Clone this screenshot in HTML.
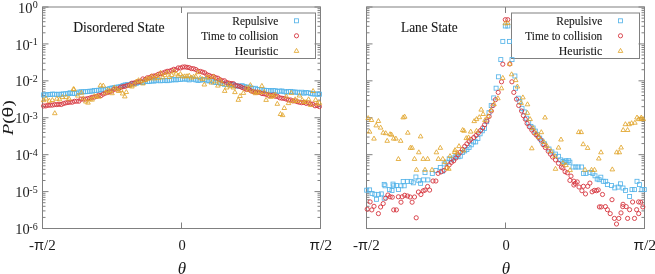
<!DOCTYPE html><html><head><meta charset="utf-8"><style>html,body{margin:0;padding:0;background:#fff;width:655px;height:274px;overflow:hidden}svg{display:block;will-change:transform}text{font-family:"Liberation Serif",serif;fill:#1a1a1a}.b{stroke:#1a1a1a;stroke-width:0.12px}</style></head><body>
<svg width="655" height="274" viewBox="0 0 655 274">
<defs><rect id="s" x="-2" y="-2" width="4" height="4" fill="none" stroke="#56b4e9" stroke-width="0.85"/><circle id="c" r="2.1" fill="none" stroke="#d6363e" stroke-width="0.9"/><path id="t" d="M0,-2.4L2.3,1.6L-2.3,1.6Z" fill="none" stroke="#e2a52c" stroke-width="0.85"/></defs>
<rect x="42.5" y="7.0" width="278.0" height="221.5" fill="none" stroke="#808080" stroke-width="1"/>
<path d="M42.5,7.00h6M320.5,7.00h-6M42.5,32.81h3M320.5,32.81h-3M42.5,26.30h3M320.5,26.30h-3M42.5,21.69h3M320.5,21.69h-3M42.5,18.11h3M320.5,18.11h-3M42.5,15.19h3M320.5,15.19h-3M42.5,12.72h3M320.5,12.72h-3M42.5,10.58h3M320.5,10.58h-3M42.5,8.69h3M320.5,8.69h-3M42.5,43.92h6M320.5,43.92h-6M42.5,69.73h3M320.5,69.73h-3M42.5,63.22h3M320.5,63.22h-3M42.5,58.61h3M320.5,58.61h-3M42.5,55.03h3M320.5,55.03h-3M42.5,52.11h3M320.5,52.11h-3M42.5,49.64h3M320.5,49.64h-3M42.5,47.50h3M320.5,47.50h-3M42.5,45.61h3M320.5,45.61h-3M42.5,80.84h6M320.5,80.84h-6M42.5,106.65h3M320.5,106.65h-3M42.5,100.14h3M320.5,100.14h-3M42.5,95.53h3M320.5,95.53h-3M42.5,91.95h3M320.5,91.95h-3M42.5,89.03h3M320.5,89.03h-3M42.5,86.56h3M320.5,86.56h-3M42.5,84.42h3M320.5,84.42h-3M42.5,82.53h3M320.5,82.53h-3M42.5,117.76h6M320.5,117.76h-6M42.5,143.57h3M320.5,143.57h-3M42.5,137.06h3M320.5,137.06h-3M42.5,132.45h3M320.5,132.45h-3M42.5,128.87h3M320.5,128.87h-3M42.5,125.95h3M320.5,125.95h-3M42.5,123.48h3M320.5,123.48h-3M42.5,121.34h3M320.5,121.34h-3M42.5,119.45h3M320.5,119.45h-3M42.5,154.68h6M320.5,154.68h-6M42.5,180.49h3M320.5,180.49h-3M42.5,173.98h3M320.5,173.98h-3M42.5,169.37h3M320.5,169.37h-3M42.5,165.79h3M320.5,165.79h-3M42.5,162.87h3M320.5,162.87h-3M42.5,160.40h3M320.5,160.40h-3M42.5,158.26h3M320.5,158.26h-3M42.5,156.37h3M320.5,156.37h-3M42.5,191.60h6M320.5,191.60h-6M42.5,217.41h3M320.5,217.41h-3M42.5,210.90h3M320.5,210.90h-3M42.5,206.29h3M320.5,206.29h-3M42.5,202.71h3M320.5,202.71h-3M42.5,199.79h3M320.5,199.79h-3M42.5,197.32h3M320.5,197.32h-3M42.5,195.18h3M320.5,195.18h-3M42.5,193.29h3M320.5,193.29h-3M42.5,228.52h6M320.5,228.52h-6M181.5,7.0v6M181.5,228.5v-6" stroke="#808080" stroke-width="1" fill="none"/>
<rect x="366.5" y="7.0" width="278.0" height="221.5" fill="none" stroke="#808080" stroke-width="1"/>
<path d="M366.5,7.00h6M644.5,7.00h-6M366.5,32.81h3M644.5,32.81h-3M366.5,26.30h3M644.5,26.30h-3M366.5,21.69h3M644.5,21.69h-3M366.5,18.11h3M644.5,18.11h-3M366.5,15.19h3M644.5,15.19h-3M366.5,12.72h3M644.5,12.72h-3M366.5,10.58h3M644.5,10.58h-3M366.5,8.69h3M644.5,8.69h-3M366.5,43.92h6M644.5,43.92h-6M366.5,69.73h3M644.5,69.73h-3M366.5,63.22h3M644.5,63.22h-3M366.5,58.61h3M644.5,58.61h-3M366.5,55.03h3M644.5,55.03h-3M366.5,52.11h3M644.5,52.11h-3M366.5,49.64h3M644.5,49.64h-3M366.5,47.50h3M644.5,47.50h-3M366.5,45.61h3M644.5,45.61h-3M366.5,80.84h6M644.5,80.84h-6M366.5,106.65h3M644.5,106.65h-3M366.5,100.14h3M644.5,100.14h-3M366.5,95.53h3M644.5,95.53h-3M366.5,91.95h3M644.5,91.95h-3M366.5,89.03h3M644.5,89.03h-3M366.5,86.56h3M644.5,86.56h-3M366.5,84.42h3M644.5,84.42h-3M366.5,82.53h3M644.5,82.53h-3M366.5,117.76h6M644.5,117.76h-6M366.5,143.57h3M644.5,143.57h-3M366.5,137.06h3M644.5,137.06h-3M366.5,132.45h3M644.5,132.45h-3M366.5,128.87h3M644.5,128.87h-3M366.5,125.95h3M644.5,125.95h-3M366.5,123.48h3M644.5,123.48h-3M366.5,121.34h3M644.5,121.34h-3M366.5,119.45h3M644.5,119.45h-3M366.5,154.68h6M644.5,154.68h-6M366.5,180.49h3M644.5,180.49h-3M366.5,173.98h3M644.5,173.98h-3M366.5,169.37h3M644.5,169.37h-3M366.5,165.79h3M644.5,165.79h-3M366.5,162.87h3M644.5,162.87h-3M366.5,160.40h3M644.5,160.40h-3M366.5,158.26h3M644.5,158.26h-3M366.5,156.37h3M644.5,156.37h-3M366.5,191.60h6M644.5,191.60h-6M366.5,217.41h3M644.5,217.41h-3M366.5,210.90h3M644.5,210.90h-3M366.5,206.29h3M644.5,206.29h-3M366.5,202.71h3M644.5,202.71h-3M366.5,199.79h3M644.5,199.79h-3M366.5,197.32h3M644.5,197.32h-3M366.5,195.18h3M644.5,195.18h-3M366.5,193.29h3M644.5,193.29h-3M366.5,228.52h6M644.5,228.52h-6M505.5,7.0v6M505.5,228.5v-6" stroke="#808080" stroke-width="1" fill="none"/>
<text x="32.50" y="12.6" font-size="14.4" text-anchor="end">10</text>
<text x="37.7" y="8.0" font-size="10" text-anchor="end">0</text>
<text x="29.67" y="49.5" font-size="14.4" text-anchor="end">10</text>
<text x="37.7" y="44.9" font-size="10" text-anchor="end">-1</text>
<text x="29.67" y="86.4" font-size="14.4" text-anchor="end">10</text>
<text x="37.7" y="81.8" font-size="10" text-anchor="end">-2</text>
<text x="29.67" y="123.4" font-size="14.4" text-anchor="end">10</text>
<text x="37.7" y="118.8" font-size="10" text-anchor="end">-3</text>
<text x="29.67" y="160.3" font-size="14.4" text-anchor="end">10</text>
<text x="37.7" y="155.7" font-size="10" text-anchor="end">-4</text>
<text x="29.67" y="197.2" font-size="14.4" text-anchor="end">10</text>
<text x="37.7" y="192.6" font-size="10" text-anchor="end">-5</text>
<text x="29.67" y="234.1" font-size="14.4" text-anchor="end">10</text>
<text x="37.7" y="229.5" font-size="10" text-anchor="end">-6</text>
<text x="42.3" y="250.1" font-size="14.5" text-anchor="middle" textLength="26.8" lengthAdjust="spacingAndGlyphs">-<tspan font-family="Liberation Sans" font-size="14">π</tspan>/2</text>
<text x="182.0" y="250.1" font-size="14.5" text-anchor="middle">0</text>
<text x="320.8" y="250.1" font-size="14.5" text-anchor="middle" textLength="22.8" lengthAdjust="spacingAndGlyphs"><tspan font-family="Liberation Sans" font-size="14">π</tspan>/2</text>
<text x="182.0" y="273.6" font-size="17" font-style="italic" text-anchor="middle">θ</text>
<text x="366.3" y="250.1" font-size="14.5" text-anchor="middle" textLength="26.8" lengthAdjust="spacingAndGlyphs">-<tspan font-family="Liberation Sans" font-size="14">π</tspan>/2</text>
<text x="506.0" y="250.1" font-size="14.5" text-anchor="middle">0</text>
<text x="644.8" y="250.1" font-size="14.5" text-anchor="middle" textLength="22.8" lengthAdjust="spacingAndGlyphs"><tspan font-family="Liberation Sans" font-size="14">π</tspan>/2</text>
<text x="506.0" y="273.6" font-size="17" font-style="italic" text-anchor="middle">θ</text>
<text transform="translate(13.4,117.8) rotate(-90)" font-size="15" text-anchor="middle" textLength="35" lengthAdjust="spacingAndGlyphs"><tspan font-style="italic">P</tspan>(<tspan font-family="Liberation Sans" font-size="15.5">θ</tspan>)</text>
<text class="b" x="73.2" y="31.8" font-size="14" textLength="91.5" lengthAdjust="spacingAndGlyphs">Disordered State</text>
<text class="b" x="401.1" y="31.9" font-size="14" textLength="56.5" lengthAdjust="spacingAndGlyphs">Lane State</text>
<rect x="187.5" y="13" width="128" height="45.5" fill="none" stroke="#808080" stroke-width="1"/>
<text class="b" x="278.3" y="24.8" font-size="12" text-anchor="end" textLength="46" lengthAdjust="spacingAndGlyphs">Repulsive</text>
<use href="#s" x="296.5" y="20.8"/>
<text class="b" x="278.3" y="39.8" font-size="12" text-anchor="end" textLength="77" lengthAdjust="spacingAndGlyphs">Time to collision</text>
<use href="#c" x="296.5" y="35.8"/>
<text class="b" x="278.3" y="54.8" font-size="12" text-anchor="end" textLength="43.5" lengthAdjust="spacingAndGlyphs">Heuristic</text>
<use href="#t" x="296.5" y="50.8"/>
<rect x="511.5" y="13" width="128" height="45.5" fill="none" stroke="#808080" stroke-width="1"/>
<text class="b" x="602.3" y="24.8" font-size="12" text-anchor="end" textLength="46" lengthAdjust="spacingAndGlyphs">Repulsive</text>
<use href="#s" x="620.5" y="20.8"/>
<text class="b" x="602.3" y="39.8" font-size="12" text-anchor="end" textLength="77" lengthAdjust="spacingAndGlyphs">Time to collision</text>
<use href="#c" x="620.5" y="35.8"/>
<text class="b" x="602.3" y="54.8" font-size="12" text-anchor="end" textLength="43.5" lengthAdjust="spacingAndGlyphs">Heuristic</text>
<use href="#t" x="620.5" y="50.8"/>
<use href="#s" x="43.6" y="94.9"/>
<use href="#s" x="45.8" y="95.0"/>
<use href="#s" x="48.0" y="94.6"/>
<use href="#s" x="50.2" y="94.5"/>
<use href="#s" x="52.4" y="94.1"/>
<use href="#s" x="54.6" y="94.2"/>
<use href="#s" x="56.8" y="94.6"/>
<use href="#s" x="59.0" y="94.2"/>
<use href="#s" x="61.3" y="94.3"/>
<use href="#s" x="63.5" y="93.9"/>
<use href="#s" x="65.7" y="93.8"/>
<use href="#s" x="67.9" y="93.6"/>
<use href="#s" x="70.1" y="92.8"/>
<use href="#s" x="72.3" y="93.6"/>
<use href="#s" x="74.5" y="93.3"/>
<use href="#s" x="76.7" y="93.2"/>
<use href="#s" x="78.9" y="92.1"/>
<use href="#s" x="81.1" y="91.8"/>
<use href="#s" x="83.3" y="91.8"/>
<use href="#s" x="85.5" y="91.7"/>
<use href="#s" x="87.7" y="91.6"/>
<use href="#s" x="89.9" y="91.2"/>
<use href="#s" x="92.1" y="91.1"/>
<use href="#s" x="94.3" y="90.4"/>
<use href="#s" x="96.6" y="90.4"/>
<use href="#s" x="98.8" y="90.2"/>
<use href="#s" x="101.0" y="89.5"/>
<use href="#s" x="103.2" y="90.0"/>
<use href="#s" x="105.4" y="89.4"/>
<use href="#s" x="107.6" y="89.3"/>
<use href="#s" x="109.8" y="88.4"/>
<use href="#s" x="112.0" y="88.0"/>
<use href="#s" x="114.2" y="87.7"/>
<use href="#s" x="116.4" y="87.2"/>
<use href="#s" x="118.6" y="87.0"/>
<use href="#s" x="120.8" y="86.4"/>
<use href="#s" x="123.0" y="85.6"/>
<use href="#s" x="125.2" y="84.9"/>
<use href="#s" x="127.4" y="84.7"/>
<use href="#s" x="129.7" y="84.9"/>
<use href="#s" x="131.9" y="83.7"/>
<use href="#s" x="134.1" y="83.7"/>
<use href="#s" x="136.3" y="83.3"/>
<use href="#s" x="138.5" y="82.3"/>
<use href="#s" x="140.7" y="82.4"/>
<use href="#s" x="142.9" y="82.6"/>
<use href="#s" x="145.1" y="81.2"/>
<use href="#s" x="147.3" y="81.6"/>
<use href="#s" x="149.5" y="81.4"/>
<use href="#s" x="151.7" y="80.9"/>
<use href="#s" x="153.9" y="81.1"/>
<use href="#s" x="156.1" y="80.7"/>
<use href="#s" x="158.3" y="80.1"/>
<use href="#s" x="160.5" y="80.8"/>
<use href="#s" x="162.7" y="80.6"/>
<use href="#s" x="165.0" y="80.6"/>
<use href="#s" x="167.2" y="80.7"/>
<use href="#s" x="169.4" y="80.2"/>
<use href="#s" x="171.6" y="80.0"/>
<use href="#s" x="173.8" y="79.4"/>
<use href="#s" x="176.0" y="79.9"/>
<use href="#s" x="178.2" y="79.4"/>
<use href="#s" x="180.4" y="79.4"/>
<use href="#s" x="182.6" y="79.0"/>
<use href="#s" x="184.8" y="79.0"/>
<use href="#s" x="187.0" y="79.2"/>
<use href="#s" x="189.2" y="79.9"/>
<use href="#s" x="191.4" y="78.9"/>
<use href="#s" x="193.6" y="79.2"/>
<use href="#s" x="195.8" y="79.9"/>
<use href="#s" x="198.0" y="80.4"/>
<use href="#s" x="200.3" y="80.2"/>
<use href="#s" x="202.5" y="79.6"/>
<use href="#s" x="204.7" y="79.6"/>
<use href="#s" x="206.9" y="80.8"/>
<use href="#s" x="209.1" y="80.7"/>
<use href="#s" x="211.3" y="80.8"/>
<use href="#s" x="213.5" y="82.0"/>
<use href="#s" x="215.7" y="82.4"/>
<use href="#s" x="217.9" y="82.5"/>
<use href="#s" x="220.1" y="83.0"/>
<use href="#s" x="222.3" y="83.5"/>
<use href="#s" x="224.5" y="84.3"/>
<use href="#s" x="226.7" y="84.3"/>
<use href="#s" x="228.9" y="84.6"/>
<use href="#s" x="231.1" y="84.9"/>
<use href="#s" x="233.3" y="84.5"/>
<use href="#s" x="235.6" y="85.8"/>
<use href="#s" x="237.8" y="86.0"/>
<use href="#s" x="240.0" y="86.2"/>
<use href="#s" x="242.2" y="85.7"/>
<use href="#s" x="244.4" y="86.6"/>
<use href="#s" x="246.6" y="87.5"/>
<use href="#s" x="248.8" y="87.0"/>
<use href="#s" x="251.0" y="88.0"/>
<use href="#s" x="253.2" y="88.7"/>
<use href="#s" x="255.4" y="88.3"/>
<use href="#s" x="257.6" y="89.6"/>
<use href="#s" x="259.8" y="89.6"/>
<use href="#s" x="262.0" y="89.7"/>
<use href="#s" x="264.2" y="90.2"/>
<use href="#s" x="266.4" y="90.5"/>
<use href="#s" x="268.7" y="90.5"/>
<use href="#s" x="270.9" y="91.0"/>
<use href="#s" x="273.1" y="90.5"/>
<use href="#s" x="275.3" y="90.7"/>
<use href="#s" x="277.5" y="91.4"/>
<use href="#s" x="279.7" y="91.1"/>
<use href="#s" x="281.9" y="91.0"/>
<use href="#s" x="284.1" y="91.7"/>
<use href="#s" x="286.3" y="92.1"/>
<use href="#s" x="288.5" y="91.5"/>
<use href="#s" x="290.7" y="91.4"/>
<use href="#s" x="292.9" y="91.9"/>
<use href="#s" x="295.1" y="92.1"/>
<use href="#s" x="297.3" y="92.2"/>
<use href="#s" x="299.5" y="92.9"/>
<use href="#s" x="301.7" y="92.2"/>
<use href="#s" x="304.0" y="93.2"/>
<use href="#s" x="306.2" y="92.5"/>
<use href="#s" x="308.4" y="92.8"/>
<use href="#s" x="310.6" y="93.5"/>
<use href="#s" x="312.8" y="93.9"/>
<use href="#s" x="315.0" y="94.0"/>
<use href="#s" x="317.2" y="94.1"/>
<use href="#s" x="319.4" y="94.2"/>
<use href="#s" x="366.7" y="190.2"/>
<use href="#s" x="369.6" y="189.9"/>
<use href="#s" x="372.1" y="193.4"/>
<use href="#s" x="374.8" y="194.3"/>
<use href="#s" x="376.5" y="199.3"/>
<use href="#s" x="378.4" y="194.6"/>
<use href="#s" x="381.3" y="193.9"/>
<use href="#s" x="384.2" y="198.2"/>
<use href="#s" x="385.0" y="185.8"/>
<use href="#s" x="389.4" y="189.5"/>
<use href="#s" x="392.0" y="190.5"/>
<use href="#s" x="393.7" y="185.8"/>
<use href="#s" x="396.4" y="185.5"/>
<use href="#s" x="398.4" y="189.5"/>
<use href="#s" x="401.0" y="185.8"/>
<use href="#s" x="404.2" y="185.8"/>
<use href="#s" x="403.2" y="181.5"/>
<use href="#s" x="384.2" y="184.4"/>
<use href="#s" x="393.0" y="184.1"/>
<use href="#s" x="407.5" y="181.4"/>
<use href="#s" x="411.1" y="181.4"/>
<use href="#s" x="413.3" y="182.8"/>
<use href="#s" x="415.9" y="177.0"/>
<use href="#s" x="418.8" y="180.7"/>
<use href="#s" x="420.6" y="183.3"/>
<use href="#s" x="423.5" y="179.9"/>
<use href="#s" x="425.0" y="172.6"/>
<use href="#s" x="427.9" y="179.9"/>
<use href="#s" x="432.3" y="173.4"/>
<use href="#s" x="435.9" y="170.4"/>
<use href="#s" x="440.3" y="167.5"/>
<use href="#s" x="444.2" y="163.9"/>
<use href="#s" x="442.5" y="171.2"/>
<use href="#s" x="505.3" y="26.0"/>
<use href="#s" x="507.8" y="26.0"/>
<use href="#s" x="502.8" y="41.4"/>
<use href="#s" x="509.4" y="41.4"/>
<use href="#s" x="500.8" y="59.6"/>
<use href="#s" x="512.0" y="59.6"/>
<use href="#s" x="498.4" y="76.8"/>
<use href="#s" x="514.9" y="76.0"/>
<use href="#s" x="496.1" y="88.2"/>
<use href="#s" x="493.7" y="97.9"/>
<use href="#s" x="515.6" y="88.2"/>
<use href="#s" x="518.3" y="98.2"/>
<use href="#s" x="541.7" y="140.9"/>
<use href="#s" x="544.6" y="143.9"/>
<use href="#s" x="549.0" y="149.0"/>
<use href="#s" x="551.9" y="151.9"/>
<use href="#s" x="555.5" y="154.1"/>
<use href="#s" x="558.5" y="156.3"/>
<use href="#s" x="560.7" y="159.9"/>
<use href="#s" x="562.8" y="161.4"/>
<use href="#s" x="565.8" y="160.7"/>
<use href="#s" x="568.7" y="160.7"/>
<use href="#s" x="564.1" y="162.2"/>
<use href="#s" x="567.0" y="162.2"/>
<use href="#s" x="569.9" y="162.2"/>
<use href="#s" x="573.1" y="167.0"/>
<use href="#s" x="575.8" y="167.0"/>
<use href="#s" x="578.2" y="167.0"/>
<use href="#s" x="581.6" y="167.0"/>
<use href="#s" x="583.4" y="173.4"/>
<use href="#s" x="586.0" y="173.4"/>
<use href="#s" x="589.9" y="172.4"/>
<use href="#s" x="592.8" y="173.4"/>
<use href="#s" x="595.0" y="175.8"/>
<use href="#s" x="597.2" y="179.0"/>
<use href="#s" x="599.1" y="179.7"/>
<use href="#s" x="600.8" y="177.2"/>
<use href="#s" x="603.3" y="181.3"/>
<use href="#s" x="605.7" y="181.3"/>
<use href="#s" x="607.4" y="184.6"/>
<use href="#s" x="611.5" y="185.5"/>
<use href="#s" x="614.8" y="187.9"/>
<use href="#s" x="618.1" y="187.1"/>
<use href="#s" x="620.5" y="183.8"/>
<use href="#s" x="623.0" y="188.0"/>
<use href="#s" x="625.5" y="190.4"/>
<use href="#s" x="629.6" y="196.5"/>
<use href="#s" x="632.0" y="189.6"/>
<use href="#s" x="634.5" y="189.6"/>
<use href="#s" x="637.0" y="181.3"/>
<use href="#s" x="639.4" y="184.6"/>
<use href="#s" x="641.9" y="189.6"/>
<use href="#s" x="644.3" y="189.6"/>
<use href="#s" x="447.0" y="162.2"/>
<use href="#s" x="449.2" y="158.8"/>
<use href="#s" x="451.4" y="159.7"/>
<use href="#s" x="453.7" y="158.0"/>
<use href="#s" x="455.9" y="156.2"/>
<use href="#s" x="458.1" y="156.8"/>
<use href="#s" x="460.3" y="156.2"/>
<use href="#s" x="462.5" y="152.4"/>
<use href="#s" x="464.7" y="150.9"/>
<use href="#s" x="466.9" y="149.6"/>
<use href="#s" x="469.1" y="147.4"/>
<use href="#s" x="471.3" y="144.8"/>
<use href="#s" x="473.5" y="141.9"/>
<use href="#s" x="475.7" y="141.9"/>
<use href="#s" x="477.9" y="138.5"/>
<use href="#s" x="480.1" y="133.8"/>
<use href="#s" x="482.3" y="130.8"/>
<use href="#s" x="484.5" y="128.4"/>
<use href="#s" x="486.7" y="121.7"/>
<use href="#s" x="489.0" y="112.7"/>
<use href="#s" x="491.2" y="105.6"/>
<use href="#s" x="519.8" y="101.6"/>
<use href="#s" x="522.0" y="108.3"/>
<use href="#s" x="524.3" y="111.9"/>
<use href="#s" x="526.5" y="118.2"/>
<use href="#s" x="528.7" y="122.6"/>
<use href="#s" x="530.9" y="126.4"/>
<use href="#s" x="533.1" y="128.0"/>
<use href="#s" x="535.3" y="131.1"/>
<use href="#s" x="537.5" y="134.7"/>
<use href="#s" x="539.7" y="138.1"/>
<use href="#c" x="43.6" y="106.0"/>
<use href="#c" x="45.8" y="105.9"/>
<use href="#c" x="48.0" y="105.3"/>
<use href="#c" x="50.2" y="105.2"/>
<use href="#c" x="52.4" y="105.1"/>
<use href="#c" x="54.6" y="104.6"/>
<use href="#c" x="56.8" y="104.6"/>
<use href="#c" x="59.0" y="104.3"/>
<use href="#c" x="61.3" y="104.5"/>
<use href="#c" x="63.5" y="103.5"/>
<use href="#c" x="65.7" y="102.9"/>
<use href="#c" x="67.9" y="102.5"/>
<use href="#c" x="70.1" y="102.2"/>
<use href="#c" x="72.3" y="102.2"/>
<use href="#c" x="74.5" y="101.3"/>
<use href="#c" x="76.7" y="101.2"/>
<use href="#c" x="78.9" y="101.2"/>
<use href="#c" x="81.1" y="99.1"/>
<use href="#c" x="83.3" y="99.1"/>
<use href="#c" x="85.5" y="99.1"/>
<use href="#c" x="87.7" y="98.6"/>
<use href="#c" x="89.9" y="98.1"/>
<use href="#c" x="92.1" y="97.3"/>
<use href="#c" x="94.3" y="97.2"/>
<use href="#c" x="96.6" y="96.4"/>
<use href="#c" x="98.8" y="95.3"/>
<use href="#c" x="101.0" y="95.6"/>
<use href="#c" x="103.2" y="94.1"/>
<use href="#c" x="105.4" y="93.1"/>
<use href="#c" x="107.6" y="92.5"/>
<use href="#c" x="109.8" y="91.7"/>
<use href="#c" x="112.0" y="91.0"/>
<use href="#c" x="114.2" y="89.2"/>
<use href="#c" x="116.4" y="89.1"/>
<use href="#c" x="118.6" y="88.8"/>
<use href="#c" x="120.8" y="87.2"/>
<use href="#c" x="123.0" y="86.7"/>
<use href="#c" x="125.2" y="86.3"/>
<use href="#c" x="127.4" y="85.5"/>
<use href="#c" x="129.7" y="85.0"/>
<use href="#c" x="131.9" y="83.2"/>
<use href="#c" x="134.1" y="83.0"/>
<use href="#c" x="136.3" y="82.2"/>
<use href="#c" x="138.5" y="81.7"/>
<use href="#c" x="140.7" y="81.1"/>
<use href="#c" x="142.9" y="78.9"/>
<use href="#c" x="145.1" y="79.5"/>
<use href="#c" x="147.3" y="77.8"/>
<use href="#c" x="149.5" y="77.7"/>
<use href="#c" x="151.7" y="76.2"/>
<use href="#c" x="153.9" y="76.0"/>
<use href="#c" x="156.1" y="75.6"/>
<use href="#c" x="158.3" y="74.3"/>
<use href="#c" x="160.5" y="73.7"/>
<use href="#c" x="162.7" y="73.1"/>
<use href="#c" x="165.0" y="72.1"/>
<use href="#c" x="167.2" y="71.3"/>
<use href="#c" x="169.4" y="71.2"/>
<use href="#c" x="171.6" y="70.4"/>
<use href="#c" x="173.8" y="69.3"/>
<use href="#c" x="176.0" y="69.8"/>
<use href="#c" x="178.2" y="67.9"/>
<use href="#c" x="180.4" y="68.0"/>
<use href="#c" x="182.6" y="67.1"/>
<use href="#c" x="184.8" y="66.9"/>
<use href="#c" x="187.0" y="67.3"/>
<use href="#c" x="189.2" y="67.6"/>
<use href="#c" x="191.4" y="68.6"/>
<use href="#c" x="193.6" y="68.7"/>
<use href="#c" x="195.8" y="69.5"/>
<use href="#c" x="198.0" y="71.1"/>
<use href="#c" x="200.3" y="71.4"/>
<use href="#c" x="202.5" y="72.1"/>
<use href="#c" x="204.7" y="72.8"/>
<use href="#c" x="206.9" y="74.7"/>
<use href="#c" x="209.1" y="75.4"/>
<use href="#c" x="211.3" y="76.5"/>
<use href="#c" x="213.5" y="76.5"/>
<use href="#c" x="215.7" y="77.7"/>
<use href="#c" x="217.9" y="78.2"/>
<use href="#c" x="220.1" y="79.7"/>
<use href="#c" x="222.3" y="80.8"/>
<use href="#c" x="224.5" y="80.8"/>
<use href="#c" x="226.7" y="82.5"/>
<use href="#c" x="228.9" y="83.1"/>
<use href="#c" x="231.1" y="83.5"/>
<use href="#c" x="233.3" y="83.6"/>
<use href="#c" x="235.6" y="85.6"/>
<use href="#c" x="237.8" y="85.9"/>
<use href="#c" x="240.0" y="86.5"/>
<use href="#c" x="242.2" y="87.6"/>
<use href="#c" x="244.4" y="88.4"/>
<use href="#c" x="246.6" y="89.5"/>
<use href="#c" x="248.8" y="89.4"/>
<use href="#c" x="251.0" y="90.9"/>
<use href="#c" x="253.2" y="91.6"/>
<use href="#c" x="255.4" y="92.1"/>
<use href="#c" x="257.6" y="92.1"/>
<use href="#c" x="259.8" y="92.5"/>
<use href="#c" x="262.0" y="93.6"/>
<use href="#c" x="264.2" y="93.8"/>
<use href="#c" x="266.4" y="94.4"/>
<use href="#c" x="268.7" y="95.4"/>
<use href="#c" x="270.9" y="95.3"/>
<use href="#c" x="273.1" y="95.1"/>
<use href="#c" x="275.3" y="96.3"/>
<use href="#c" x="277.5" y="96.4"/>
<use href="#c" x="279.7" y="97.8"/>
<use href="#c" x="281.9" y="98.2"/>
<use href="#c" x="284.1" y="98.4"/>
<use href="#c" x="286.3" y="99.1"/>
<use href="#c" x="288.5" y="99.9"/>
<use href="#c" x="290.7" y="100.0"/>
<use href="#c" x="292.9" y="100.9"/>
<use href="#c" x="295.1" y="100.9"/>
<use href="#c" x="297.3" y="101.7"/>
<use href="#c" x="299.5" y="102.3"/>
<use href="#c" x="301.7" y="102.7"/>
<use href="#c" x="304.0" y="102.4"/>
<use href="#c" x="306.2" y="103.4"/>
<use href="#c" x="308.4" y="103.0"/>
<use href="#c" x="310.6" y="103.9"/>
<use href="#c" x="312.8" y="104.2"/>
<use href="#c" x="315.0" y="105.8"/>
<use href="#c" x="317.2" y="105.6"/>
<use href="#c" x="319.4" y="106.6"/>
<use href="#c" x="367.2" y="209.2"/>
<use href="#c" x="370.1" y="201.9"/>
<use href="#c" x="371.8" y="209.9"/>
<use href="#c" x="374.0" y="206.3"/>
<use href="#c" x="378.4" y="213.6"/>
<use href="#c" x="380.6" y="207.0"/>
<use href="#c" x="383.2" y="203.6"/>
<use href="#c" x="385.7" y="198.2"/>
<use href="#c" x="387.9" y="195.0"/>
<use href="#c" x="390.1" y="196.8"/>
<use href="#c" x="392.3" y="197.2"/>
<use href="#c" x="393.7" y="209.9"/>
<use href="#c" x="396.4" y="209.9"/>
<use href="#c" x="398.4" y="196.8"/>
<use href="#c" x="401.0" y="202.2"/>
<use href="#c" x="402.2" y="196.8"/>
<use href="#c" x="404.7" y="195.3"/>
<use href="#c" x="407.5" y="196.0"/>
<use href="#c" x="410.1" y="197.0"/>
<use href="#c" x="412.1" y="202.2"/>
<use href="#c" x="414.5" y="197.0"/>
<use href="#c" x="416.2" y="217.8"/>
<use href="#c" x="418.4" y="192.0"/>
<use href="#c" x="420.9" y="194.5"/>
<use href="#c" x="423.2" y="190.8"/>
<use href="#c" x="425.0" y="190.1"/>
<use href="#c" x="427.6" y="186.5"/>
<use href="#c" x="429.6" y="190.1"/>
<use href="#c" x="433.0" y="181.0"/>
<use href="#c" x="435.9" y="181.0"/>
<use href="#c" x="438.1" y="173.4"/>
<use href="#c" x="441.0" y="171.9"/>
<use href="#c" x="444.0" y="170.4"/>
<use href="#c" x="505.3" y="19.7"/>
<use href="#c" x="507.8" y="19.7"/>
<use href="#c" x="502.8" y="64.2"/>
<use href="#c" x="509.8" y="64.0"/>
<use href="#c" x="501.5" y="81.8"/>
<use href="#c" x="498.2" y="92.4"/>
<use href="#c" x="495.5" y="99.7"/>
<use href="#c" x="493.1" y="105.5"/>
<use href="#c" x="491.3" y="111.0"/>
<use href="#c" x="489.1" y="116.5"/>
<use href="#c" x="486.9" y="121.0"/>
<use href="#c" x="484.6" y="124.7"/>
<use href="#c" x="482.7" y="127.8"/>
<use href="#c" x="480.5" y="130.5"/>
<use href="#c" x="478.3" y="133.0"/>
<use href="#c" x="476.0" y="135.5"/>
<use href="#c" x="473.8" y="137.5"/>
<use href="#c" x="470.8" y="139.4"/>
<use href="#c" x="511.9" y="81.8"/>
<use href="#c" x="513.8" y="92.4"/>
<use href="#c" x="516.5" y="99.2"/>
<use href="#c" x="518.7" y="105.5"/>
<use href="#c" x="521.6" y="111.0"/>
<use href="#c" x="523.4" y="115.6"/>
<use href="#c" x="525.3" y="119.2"/>
<use href="#c" x="527.1" y="123.4"/>
<use href="#c" x="529.3" y="126.8"/>
<use href="#c" x="531.8" y="130.0"/>
<use href="#c" x="534.0" y="132.8"/>
<use href="#c" x="536.2" y="135.0"/>
<use href="#c" x="538.4" y="137.2"/>
<use href="#c" x="540.6" y="139.8"/>
<use href="#c" x="543.1" y="144.6"/>
<use href="#c" x="545.3" y="147.5"/>
<use href="#c" x="548.2" y="151.2"/>
<use href="#c" x="550.4" y="154.1"/>
<use href="#c" x="552.6" y="157.0"/>
<use href="#c" x="555.5" y="159.9"/>
<use href="#c" x="558.5" y="163.3"/>
<use href="#c" x="561.4" y="167.2"/>
<use href="#c" x="562.9" y="168.0"/>
<use href="#c" x="565.1" y="171.7"/>
<use href="#c" x="567.3" y="172.8"/>
<use href="#c" x="571.0" y="176.1"/>
<use href="#c" x="569.9" y="180.4"/>
<use href="#c" x="573.9" y="181.2"/>
<use href="#c" x="575.3" y="183.4"/>
<use href="#c" x="577.2" y="181.9"/>
<use href="#c" x="579.0" y="187.0"/>
<use href="#c" x="581.9" y="190.7"/>
<use href="#c" x="583.4" y="186.3"/>
<use href="#c" x="585.5" y="193.9"/>
<use href="#c" x="587.7" y="186.3"/>
<use href="#c" x="589.9" y="183.1"/>
<use href="#c" x="592.1" y="191.8"/>
<use href="#c" x="594.3" y="190.4"/>
<use href="#c" x="596.5" y="190.7"/>
<use href="#c" x="598.2" y="189.9"/>
<use href="#c" x="599.4" y="206.9"/>
<use href="#c" x="601.2" y="206.9"/>
<use href="#c" x="602.5" y="194.5"/>
<use href="#c" x="605.4" y="206.6"/>
<use href="#c" x="607.4" y="209.7"/>
<use href="#c" x="610.2" y="213.6"/>
<use href="#c" x="612.0" y="199.7"/>
<use href="#c" x="614.4" y="218.4"/>
<use href="#c" x="616.5" y="224.0"/>
<use href="#c" x="618.8" y="218.4"/>
<use href="#c" x="621.0" y="212.9"/>
<use href="#c" x="622.7" y="206.6"/>
<use href="#c" x="623.0" y="204.3"/>
<use href="#c" x="626.2" y="206.6"/>
<use href="#c" x="627.6" y="218.4"/>
<use href="#c" x="629.6" y="209.7"/>
<use href="#c" x="632.6" y="202.0"/>
<use href="#c" x="634.5" y="218.4"/>
<use href="#c" x="636.6" y="209.7"/>
<use href="#c" x="638.6" y="201.9"/>
<use href="#c" x="638.7" y="213.6"/>
<use href="#c" x="640.7" y="202.2"/>
<use href="#c" x="642.8" y="206.9"/>
<use href="#c" x="573.9" y="185.0"/>
<use href="#c" x="447.0" y="167.5"/>
<use href="#c" x="449.2" y="164.9"/>
<use href="#c" x="451.4" y="162.4"/>
<use href="#c" x="453.7" y="160.8"/>
<use href="#c" x="455.9" y="158.0"/>
<use href="#c" x="458.1" y="154.8"/>
<use href="#c" x="460.3" y="152.2"/>
<use href="#c" x="462.5" y="149.5"/>
<use href="#c" x="464.7" y="146.4"/>
<use href="#c" x="466.9" y="143.9"/>
<use href="#c" x="469.1" y="141.3"/>
<use href="#t" x="54.8" y="113.1"/>
<use href="#t" x="282.6" y="115.0"/>
<use href="#t" x="250.4" y="85.0"/>
<use href="#t" x="74.0" y="89.2"/>
<use href="#t" x="88.0" y="102.5"/>
<use href="#t" x="103.3" y="85.5"/>
<use href="#t" x="122.6" y="93.4"/>
<use href="#t" x="124.8" y="96.3"/>
<use href="#t" x="126.3" y="91.9"/>
<use href="#t" x="204.3" y="84.4"/>
<use href="#t" x="224.7" y="90.8"/>
<use href="#t" x="234.9" y="92.0"/>
<use href="#t" x="238.3" y="99.7"/>
<use href="#t" x="240.0" y="95.9"/>
<use href="#t" x="243.4" y="92.8"/>
<use href="#t" x="261.9" y="85.8"/>
<use href="#t" x="266.1" y="99.8"/>
<use href="#t" x="277.3" y="103.7"/>
<use href="#t" x="284.3" y="107.9"/>
<use href="#t" x="280.5" y="113.9"/>
<use href="#t" x="291.3" y="92.8"/>
<use href="#t" x="308.6" y="99.2"/>
<use href="#t" x="313.1" y="90.9"/>
<use href="#t" x="315.6" y="99.8"/>
<use href="#t" x="295.2" y="99.2"/>
<use href="#t" x="302.2" y="99.8"/>
<use href="#t" x="73.4" y="89.0"/>
<use href="#t" x="77.8" y="95.5"/>
<use href="#t" x="81.4" y="92.6"/>
<use href="#t" x="85.8" y="101.4"/>
<use href="#t" x="90.2" y="99.2"/>
<use href="#t" x="100.4" y="85.3"/>
<use href="#t" x="46.1" y="98.5"/>
<use href="#t" x="49.3" y="100.7"/>
<use href="#t" x="59.5" y="99.2"/>
<use href="#t" x="62.4" y="97.0"/>
<use href="#t" x="66.1" y="97.0"/>
<use href="#t" x="69.0" y="98.5"/>
<use href="#t" x="43.6" y="100.1"/>
<use href="#t" x="52.4" y="99.9"/>
<use href="#t" x="56.8" y="98.6"/>
<use href="#t" x="83.3" y="98.2"/>
<use href="#t" x="92.1" y="99.5"/>
<use href="#t" x="94.3" y="96.0"/>
<use href="#t" x="96.6" y="96.3"/>
<use href="#t" x="98.8" y="96.6"/>
<use href="#t" x="105.4" y="92.6"/>
<use href="#t" x="107.6" y="90.1"/>
<use href="#t" x="109.8" y="90.8"/>
<use href="#t" x="112.0" y="93.1"/>
<use href="#t" x="114.2" y="87.5"/>
<use href="#t" x="116.4" y="88.7"/>
<use href="#t" x="118.6" y="90.9"/>
<use href="#t" x="120.8" y="89.8"/>
<use href="#t" x="129.7" y="85.6"/>
<use href="#t" x="131.9" y="86.4"/>
<use href="#t" x="134.1" y="84.6"/>
<use href="#t" x="136.3" y="81.5"/>
<use href="#t" x="138.5" y="80.1"/>
<use href="#t" x="140.7" y="81.1"/>
<use href="#t" x="142.9" y="83.3"/>
<use href="#t" x="145.1" y="80.0"/>
<use href="#t" x="147.3" y="78.7"/>
<use href="#t" x="149.5" y="78.3"/>
<use href="#t" x="151.7" y="76.3"/>
<use href="#t" x="153.9" y="78.3"/>
<use href="#t" x="156.1" y="75.8"/>
<use href="#t" x="158.3" y="78.1"/>
<use href="#t" x="160.5" y="72.7"/>
<use href="#t" x="162.7" y="77.2"/>
<use href="#t" x="165.0" y="75.1"/>
<use href="#t" x="167.2" y="72.4"/>
<use href="#t" x="169.4" y="76.9"/>
<use href="#t" x="171.6" y="74.9"/>
<use href="#t" x="173.8" y="71.2"/>
<use href="#t" x="176.0" y="73.5"/>
<use href="#t" x="178.2" y="75.5"/>
<use href="#t" x="180.4" y="74.0"/>
<use href="#t" x="182.6" y="76.3"/>
<use href="#t" x="184.8" y="76.2"/>
<use href="#t" x="187.0" y="76.1"/>
<use href="#t" x="189.2" y="75.6"/>
<use href="#t" x="191.4" y="77.5"/>
<use href="#t" x="193.6" y="76.6"/>
<use href="#t" x="195.8" y="76.4"/>
<use href="#t" x="198.0" y="72.1"/>
<use href="#t" x="200.3" y="77.7"/>
<use href="#t" x="202.5" y="79.0"/>
<use href="#t" x="206.9" y="77.2"/>
<use href="#t" x="209.1" y="77.4"/>
<use href="#t" x="211.3" y="82.4"/>
<use href="#t" x="213.5" y="76.5"/>
<use href="#t" x="215.7" y="81.2"/>
<use href="#t" x="217.9" y="85.5"/>
<use href="#t" x="220.1" y="80.2"/>
<use href="#t" x="222.3" y="83.8"/>
<use href="#t" x="226.7" y="87.4"/>
<use href="#t" x="228.9" y="84.3"/>
<use href="#t" x="231.1" y="86.1"/>
<use href="#t" x="233.3" y="87.4"/>
<use href="#t" x="246.6" y="87.6"/>
<use href="#t" x="248.8" y="89.7"/>
<use href="#t" x="253.2" y="91.5"/>
<use href="#t" x="255.4" y="93.1"/>
<use href="#t" x="257.6" y="92.0"/>
<use href="#t" x="259.8" y="92.3"/>
<use href="#t" x="264.2" y="91.8"/>
<use href="#t" x="268.7" y="94.0"/>
<use href="#t" x="270.9" y="96.8"/>
<use href="#t" x="273.1" y="95.7"/>
<use href="#t" x="275.3" y="94.4"/>
<use href="#t" x="286.3" y="96.3"/>
<use href="#t" x="288.5" y="103.0"/>
<use href="#t" x="292.9" y="101.0"/>
<use href="#t" x="297.3" y="100.9"/>
<use href="#t" x="299.5" y="95.4"/>
<use href="#t" x="304.0" y="101.9"/>
<use href="#t" x="306.2" y="102.0"/>
<use href="#t" x="310.6" y="104.8"/>
<use href="#t" x="317.2" y="103.4"/>
<use href="#t" x="319.4" y="102.8"/>
<use href="#t" x="368.2" y="118.0"/>
<use href="#t" x="371.5" y="119.9"/>
<use href="#t" x="378.4" y="120.9"/>
<use href="#t" x="376.2" y="125.3"/>
<use href="#t" x="380.6" y="127.5"/>
<use href="#t" x="369.6" y="131.6"/>
<use href="#t" x="383.2" y="132.6"/>
<use href="#t" x="385.7" y="133.1"/>
<use href="#t" x="390.1" y="134.1"/>
<use href="#t" x="391.5" y="134.5"/>
<use href="#t" x="374.0" y="138.5"/>
<use href="#t" x="387.2" y="140.7"/>
<use href="#t" x="393.7" y="138.5"/>
<use href="#t" x="395.9" y="138.5"/>
<use href="#t" x="400.7" y="140.7"/>
<use href="#t" x="403.2" y="117.3"/>
<use href="#t" x="404.7" y="116.6"/>
<use href="#t" x="407.8" y="132.6"/>
<use href="#t" x="420.6" y="136.3"/>
<use href="#t" x="410.4" y="147.7"/>
<use href="#t" x="412.1" y="147.7"/>
<use href="#t" x="440.3" y="147.7"/>
<use href="#t" x="398.4" y="158.9"/>
<use href="#t" x="418.8" y="152.2"/>
<use href="#t" x="436.4" y="152.2"/>
<use href="#t" x="414.5" y="158.8"/>
<use href="#t" x="423.2" y="158.8"/>
<use href="#t" x="427.6" y="158.8"/>
<use href="#t" x="438.4" y="158.8"/>
<use href="#t" x="442.8" y="158.8"/>
<use href="#t" x="416.5" y="169.7"/>
<use href="#t" x="425.0" y="169.7"/>
<use href="#t" x="432.0" y="169.7"/>
<use href="#t" x="454.6" y="151.9"/>
<use href="#t" x="457.5" y="152.6"/>
<use href="#t" x="463.4" y="150.4"/>
<use href="#t" x="466.3" y="138.0"/>
<use href="#t" x="468.5" y="137.3"/>
<use href="#t" x="464.1" y="130.7"/>
<use href="#t" x="470.7" y="131.5"/>
<use href="#t" x="476.5" y="130.7"/>
<use href="#t" x="446.6" y="168.0"/>
<use href="#t" x="448.8" y="168.7"/>
<use href="#t" x="481.2" y="109.5"/>
<use href="#t" x="483.1" y="113.9"/>
<use href="#t" x="479.3" y="117.1"/>
<use href="#t" x="476.5" y="119.0"/>
<use href="#t" x="474.2" y="121.0"/>
<use href="#t" x="462.7" y="129.9"/>
<use href="#t" x="501.5" y="88.2"/>
<use href="#t" x="497.9" y="98.2"/>
<use href="#t" x="505.3" y="23.2"/>
<use href="#t" x="507.8" y="23.0"/>
<use href="#t" x="502.8" y="77.8"/>
<use href="#t" x="509.8" y="63.7"/>
<use href="#t" x="511.6" y="74.2"/>
<use href="#t" x="515.7" y="80.0"/>
<use href="#t" x="517.4" y="86.4"/>
<use href="#t" x="522.9" y="97.3"/>
<use href="#t" x="521.1" y="102.8"/>
<use href="#t" x="527.4" y="112.8"/>
<use href="#t" x="527.5" y="104.2"/>
<use href="#t" x="545.0" y="117.4"/>
<use href="#t" x="637.0" y="117.4"/>
<use href="#t" x="641.3" y="117.4"/>
<use href="#t" x="530.1" y="119.0"/>
<use href="#t" x="541.3" y="132.1"/>
<use href="#t" x="561.0" y="139.4"/>
<use href="#t" x="531.8" y="148.2"/>
<use href="#t" x="558.5" y="147.5"/>
<use href="#t" x="555.5" y="168.7"/>
<use href="#t" x="583.2" y="144.1"/>
<use href="#t" x="587.6" y="147.8"/>
<use href="#t" x="601.0" y="152.2"/>
<use href="#t" x="598.8" y="158.4"/>
<use href="#t" x="570.1" y="170.0"/>
<use href="#t" x="585.0" y="169.7"/>
<use href="#t" x="591.5" y="169.7"/>
<use href="#t" x="594.5" y="169.7"/>
<use href="#t" x="625.4" y="124.1"/>
<use href="#t" x="629.1" y="124.1"/>
<use href="#t" x="631.6" y="123.1"/>
<use href="#t" x="634.9" y="122.6"/>
<use href="#t" x="638.6" y="119.0"/>
<use href="#t" x="641.2" y="119.0"/>
<use href="#t" x="643.2" y="119.0"/>
<use href="#t" x="623.2" y="129.9"/>
<use href="#t" x="627.6" y="129.9"/>
<use href="#t" x="621.1" y="147.4"/>
<use href="#t" x="616.7" y="152.2"/>
<use href="#t" x="619.3" y="152.2"/>
<use href="#t" x="612.3" y="169.3"/>
<use href="#t" x="578.7" y="132.0"/>
<use href="#t" x="581.2" y="132.0"/>
<use href="#t" x="494.0" y="104.0"/>
<use href="#t" x="491.0" y="110.0"/>
<use href="#t" x="488.0" y="116.0"/>
<use href="#t" x="485.0" y="120.0"/>
<use href="#t" x="459.0" y="146.0"/>
<use href="#t" x="455.0" y="150.0"/>
<use href="#t" x="450.0" y="156.0"/>
<use href="#t" x="445.0" y="162.0"/>
<use href="#t" x="533.0" y="128.0"/>
<use href="#t" x="536.0" y="133.0"/>
<use href="#t" x="539.0" y="137.0"/>
<use href="#t" x="544.0" y="142.0"/>
<use href="#t" x="547.0" y="146.0"/>
<use href="#t" x="551.0" y="151.0"/>
<use href="#t" x="555.0" y="156.0"/>
<use href="#t" x="563.0" y="163.0"/>
<use href="#t" x="566.0" y="165.0"/>
</svg></body></html>
